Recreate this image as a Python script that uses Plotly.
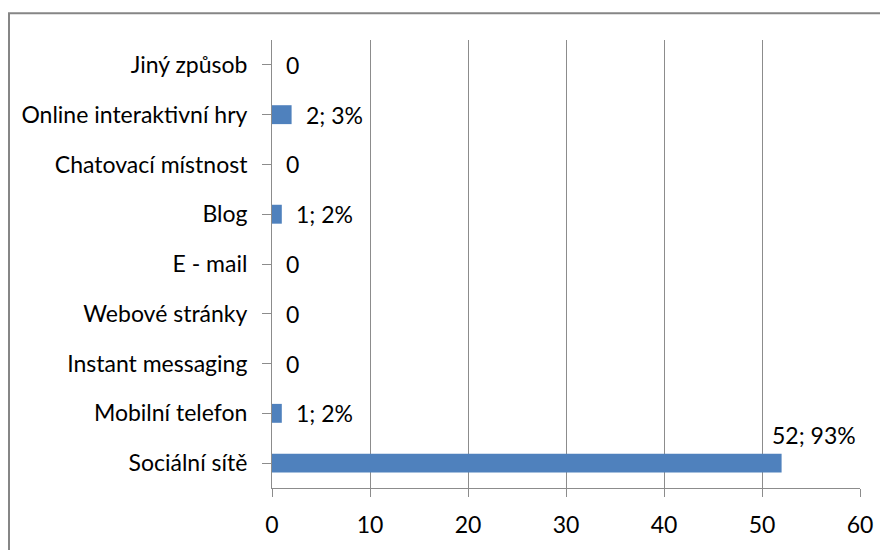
import plotly.graph_objects as go

categories = ["Sociální sítě", "Mobilní telefon", "Instant messaging", "Webové stránky",
              "E - mail", "Blog", "Chatovací místnost", "Online interaktivní hry", "Jiný způsob"]
counts = [52, 1, 0, 0, 0, 1, 0, 2, 0]
percents = [93, 2, 0, 0, 0, 2, 0, 3, 0]
x_ticks = [0, 10, 20, 30, 40, 50, 60]

FONT = "Lato"
FS = 23
BAR = "#4F81BD"
GRID = "#8C8C8C"

labels = [("0" if c == 0 else f"{c}; {p}%") for c, p in zip(counts, percents)]

fig = go.Figure()
fig.add_trace(go.Bar(
    y=categories, x=counts, orientation="h",
    marker=dict(color=BAR, line=dict(width=0)),
    width=0.38, hoverinfo="skip",
))

for cat, c, lab in zip(categories, counts, labels):
    if c >= 50:
        fig.add_annotation(x=c, y=cat, text=lab, showarrow=False, xanchor="center",
                           yanchor="bottom", xshift=32, yshift=12,
                           font=dict(family=FONT, size=FS, color="#000"))
    else:
        fig.add_annotation(x=c, y=cat, text=lab, showarrow=False, xanchor="left",
                           yanchor="middle", xshift=12,
                           font=dict(family=FONT, size=FS, color="#000"))

# outer border of chart area
fig.add_shape(type="rect", xref="paper", yref="paper",
              x0=-263/588, x1=1.0 + 40/588, y0=-0.3, y1=1 + 27/454,
              line=dict(color="#868686", width=2), layer="below")

fig.update_layout(
    width=880, height=542,
    margin=dict(l=264, r=28, t=32, b=56),
    plot_bgcolor="white", paper_bgcolor="white",
    showlegend=False,
    font=dict(family=FONT, size=FS, color="#000"),
    xaxis=dict(range=[0, 60], tickvals=x_ticks, showgrid=True, gridcolor=GRID, gridwidth=1,
               zeroline=False, showline=True, linecolor=GRID, linewidth=1,
               ticks="outside", ticklen=8, tickcolor=GRID, ticklabelstandoff=8,
               fixedrange=True),
    yaxis=dict(categoryorder="array", categoryarray=categories, showgrid=False,
               showline=True, linecolor=GRID, linewidth=1, ticks="outside", ticklen=9,
               tickcolor=GRID, ticklabelstandoff=10, zeroline=False, fixedrange=True),
)
fig.write_html("out.html")
